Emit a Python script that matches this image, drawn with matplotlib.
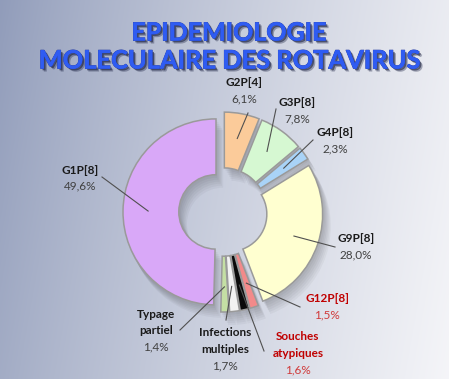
import numpy as np
import matplotlib.pyplot as plt
import matplotlib.patheffects as pe

# data
labels = ["G2P[4]", "G3P[8]", "G4P[8]", "G9P[8]", "G12P[8]",
          "Souches\natypiques", "Infections\nmultiples", "Typage\npartiel", "G1P[8]"]
values = [6.1, 7.8, 2.3, 28.0, 1.5, 1.6, 1.7, 1.4, 49.6]
colors = ["#FBCB9A", "#D6F8D2", "#A9D3F7", "#FFFFD0", "#F28A8A",
          "#0A0A0A", "#F2F2F2", "#C4DFA4", "#D9A8F8"]
label_red = [False, False, False, False, True, True, False, False, False]

# label text positions (pixels, top-left origin) and leader line ends
label_pos = [(244, 83), (297, 103), (335, 133), (356, 239), (327, 299),
             (298, 337), (225, 333), (156, 314), (80, 170)]
line_end = [(248, 113), (276, 109), (313, 140), (335, 247), (300, 307),
            (264, 351), (226, 320), (180, 330), (102, 177)]

W, H = 449, 379
CX, CY, R = 223, 212, 93
EXPL = 7

fig = plt.figure(figsize=(W / 100, H / 100), dpi=100)
ax = fig.add_axes([0, 0, 1, 1])

# background gradient
gx = np.linspace(0, 1, 300)
gy = np.linspace(0, 1, 300)
XX, YY = np.meshgrid(gx, gy)
t = np.clip(0.8 * XX + 0.12 * YY + 0.05, 0, 1) ** 0.75
c0 = np.array([0.52, 0.57, 0.70])
c1 = np.array([0.97, 0.97, 0.98])
img = c0[None, None, :] * (1 - t[..., None]) + c1[None, None, :] * t[..., None]
ax.imshow(img, extent=[0, W, 0, H], origin="upper", aspect="auto", zorder=0)

def py(y):
    return H - y

# soft shadow
for off in [2, 4, 6, 8, 10, 12]:
    ax.pie(values, colors=["black"] * len(values), startangle=90, counterclock=False,
           radius=R + 1, center=(CX + off * 0.6, py(CY) - off), explode=[EXPL] * len(values),
           wedgeprops=dict(width=R * 0.6 + 2, linewidth=0, alpha=0.035), frame=True)

wedges, _ = ax.pie(values, colors=colors, startangle=90, counterclock=False,
                   radius=R, center=(CX, py(CY)), explode=[EXPL] * len(values),
                   wedgeprops=dict(width=R * 0.6, edgecolor="#9A9A9A", linewidth=1.1),
                   frame=True)
ax.set_xlim(0, W)
ax.set_ylim(0, H)
ax.set_aspect("auto")
ax.axis("off")

font = "Lato"
for w, lab, val, red, (lx, ly), (ex, ey) in zip(wedges, labels, values, label_red,
                                                 label_pos, line_end):
    th = np.deg2rad((w.theta1 + w.theta2) / 2)
    sx = w.center[0] + 0.73 * R * np.cos(th)
    sy = w.center[1] + 0.73 * R * np.sin(th)
    ax.plot([sx, ex], [sy, py(ey)], color="#505050", lw=0.8, zorder=5)
    ncol = "#C00000" if red else "#1A1A1A"
    pcol = "#D03A3A" if red else "#404040"
    y = ly
    for part in lab.split("\n"):
        ax.text(lx, py(y), part, ha="center", va="center", fontsize=8.5, fontweight="bold",
                color=ncol, family=font, zorder=6)
        y += 16.5
    ax.text(lx, py(y - 0.5), f"{val:.1f}%".replace(".", ","), ha="center", va="center",
            fontsize=8.5, color=pcol, family=font, zorder=6)

title_fx = [pe.SimplePatchShadow(offset=(2.2, -2.2), shadow_rgbFace="#1A2040", alpha=0.35),
            pe.SimplePatchShadow(offset=(1.3, -1.3), shadow_rgbFace="#1A2040", alpha=0.6),
            pe.withStroke(linewidth=0.6, foreground="#2A3FA0"), pe.Normal()]
ax.text(229, py(33), "EPIDEMIOLOGIE", ha="center", va="center", fontsize=18,
        fontweight="bold", color="#2F5CF2", family=font, path_effects=title_fx)
ax.text(229, py(61), "MOLECULAIRE DES ROTAVIRUS", ha="center", va="center", fontsize=18.3,
        fontweight="bold", color="#2F5CF2", family=font, path_effects=title_fx)

fig.savefig("out.png", dpi=100)
